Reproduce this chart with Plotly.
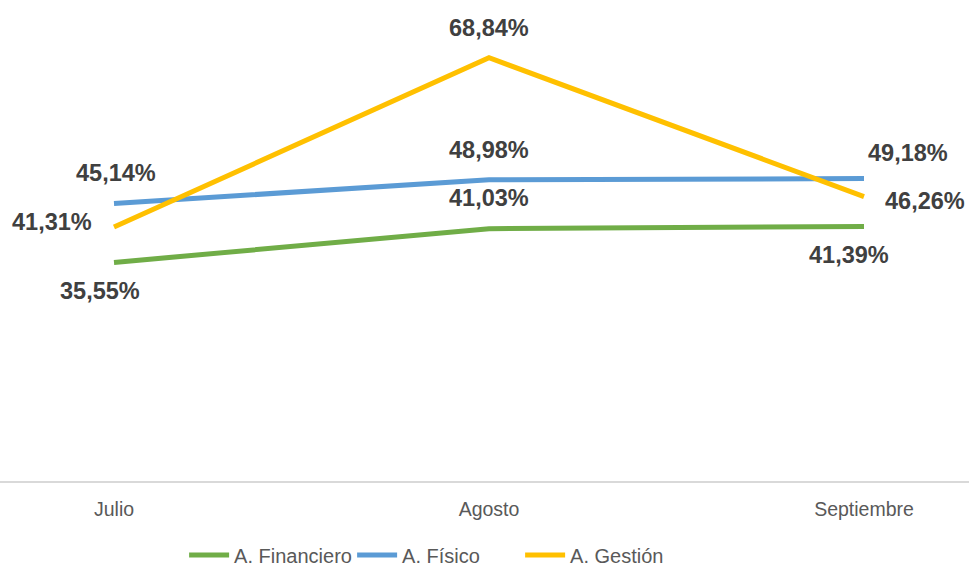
import plotly.graph_objects as go

months = ["Julio", "Agosto", "Septiembre"]
financiero = [35.55, 41.03, 41.39]
fisico = [45.14, 48.98, 49.18]
gestion = [41.31, 68.84, 46.26]

series = [
    ("A. Financiero", financiero, "#70AD47"),
    ("A. Físico", fisico, "#5B9BD5"),
    ("A. Gestión", gestion, "#FFC000"),
]

# label offsets in pixels (xshift, yshift) per series and month
offsets = {
    "A. Financiero": [(-14, -29), (0, 31), (-15, -28)],
    "A. Físico": [(2, 30), (0, 30), (44, 26)],
    "A. Gestión": [(-62, 5), (0, 30), (61, -4)],
}

FONT = "Liberation Sans, Arial, sans-serif"

fig = go.Figure()
annotations = []
for name, vals, color in series:
    fig.add_trace(go.Scatter(
        x=months, y=vals, name=name, mode="lines",
        line=dict(color=color, width=5),
        hoverinfo="skip",
    ))
    for m, v, (dx, dy) in zip(months, vals, offsets[name]):
        annotations.append(dict(
            x=m, y=v, xref="x", yref="y",
            text=f"{v:.2f}%".replace(".", ","),
            showarrow=False, xshift=dx, yshift=dy,
            font=dict(family=FONT, size=23.5, color="#404040", weight="bold"),
        ))

fig.update_layout(
    width=969, height=567,
    margin=dict(l=0, r=0, t=10, b=86, autoexpand=False),
    paper_bgcolor="white", plot_bgcolor="white",
    font=dict(family=FONT, color="#595959"),
    annotations=annotations,
    showlegend=True,
    legend=dict(
        orientation="h", x=0.190, xanchor="left", y=-0.157, yanchor="middle",
        font=dict(size=20, color="#595959"), itemwidth=40, tracegroupgap=0,
        entrywidth=113, entrywidthmode="pixels",
        bgcolor="rgba(0,0,0,0)",
    ),
    xaxis=dict(
        type="category", range=[-0.304, 2.280],
        showgrid=False, zeroline=False,
        showline=True, linecolor="#D9D9D9", linewidth=2,
        ticks="", ticklabelstandoff=10,
        tickfont=dict(size=19.5, color="#595959"),
        fixedrange=True,
    ),
    yaxis=dict(
        range=[0, 76.6], showgrid=False, zeroline=False,
        showticklabels=False, showline=False, fixedrange=True,
    ),
)

fig.write_html(
    "out.html",
    config={"displayModeBar": False},
    post_script="document.body.style.margin='0';document.body.style.overflow='hidden';",
)
